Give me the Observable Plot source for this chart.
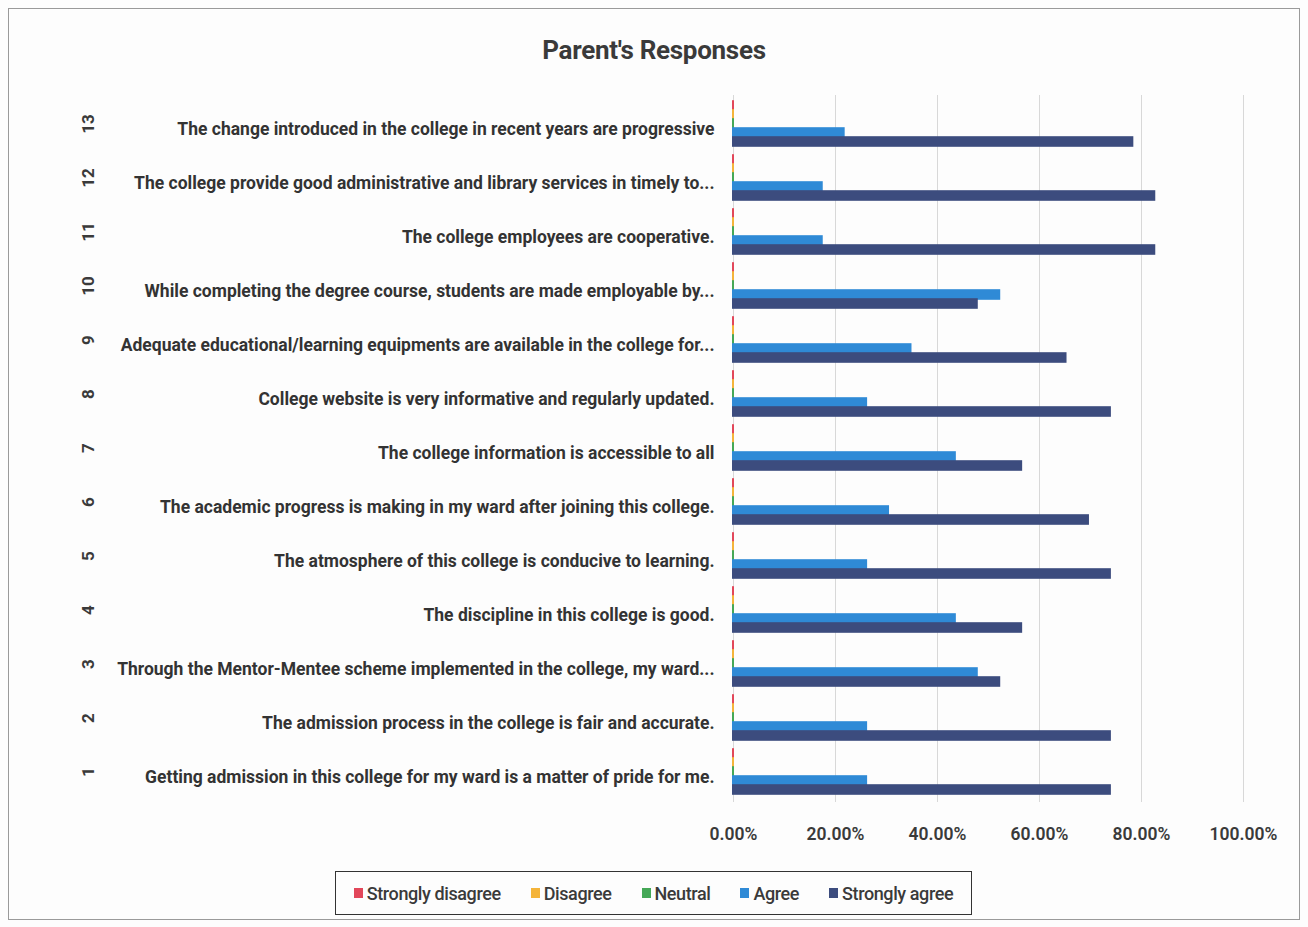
<!DOCTYPE html>
<html>
<head>
<meta charset="utf-8">
<script src="https://cdn.jsdelivr.net/npm/d3@7"></script>
<script src="https://cdn.jsdelivr.net/npm/@observablehq/plot@0.6"></script>
<style>
  html, body { margin: 0; padding: 0; background: #fdfdfd; }
  #frame { position: relative; width: 1308px; height: 927px; overflow: hidden; }
  #border { position: absolute; left: 8px; top: 8px; width: 1292px; height: 912px; border: 1.5px solid #9a9a9a; box-sizing: border-box; }
  #title { position: absolute; left: 0; width: 1308px; top: 35px; text-align: center; font-family: "Roboto", sans-serif; font-weight: bold; font-size: 26px; letter-spacing: -0.3px; color: #3a3a3a; }
  #chart { position: absolute; left: 0; top: 75px; }
  #legend { position: absolute; left: 335px; top: 871px; width: 637px; height: 44px; border: 1.5px solid #333; box-sizing: border-box; display: flex; align-items: center; justify-content: center; gap: 30px; font-family: "Roboto", sans-serif; font-weight: 500; font-size: 18px; letter-spacing: -0.4px; color: #3a3a3a; }
  .item { display: flex; align-items: center; gap: 4px; }
  .sw { width: 9px; height: 10px; display: inline-block; }
</style>
</head>
<body>
<div id="frame">
  <div id="border"></div>
  <div id="title">Parent's Responses</div>
  <div id="chart"></div>
  <div id="legend"></div>
</div>
<script>
const numbers = [13, 12, 11, 10, 9, 8, 7, 6, 5, 4, 3, 2, 1];
const statements = [
  "The change introduced in the college in recent years are progressive",
  "The college provide good administrative and library services in timely to...",
  "The college employees are cooperative.",
  "While completing the degree course, students are made employable by...",
  "Adequate educational/learning equipments are available in the college for...",
  "College website is very informative and regularly updated.",
  "The college information is accessible to all",
  "The academic progress is making in my ward after joining this college.",
  "The atmosphere of this college is conducive to learning.",
  "The discipline in this college is good.",
  "Through the Mentor-Mentee scheme implemented in the college, my ward...",
  "The admission process in the college is fair and accurate.",
  "Getting admission in this college for my ward is a matter of pride for me."
];
const series = ["Strongly disagree", "Disagree", "Neutral", "Agree", "Strongly agree"];
const colors = ["#e2475a", "#f4b43a", "#45a857", "#2f8ad6", "#3c4c7e"];
// values in percent, ordered as statements (13 down to 1)
const stronglyDisagree = [0, 0, 0, 0, 0, 0, 0, 0, 0, 0, 0, 0, 0];
const disagree         = [0, 0, 0, 0, 0, 0, 0, 0, 0, 0, 0, 0, 0];
const neutral          = [0, 0, 0, 0, 0, 0, 0, 0, 0, 0, 0, 0, 0];
const agree            = [21.7, 17.4, 17.4, 52.2, 34.8, 26.1, 43.5, 30.4, 26.1, 43.5, 47.8, 26.1, 26.1];
const stronglyAgree    = [78.3, 82.6, 82.6, 47.8, 65.2, 73.9, 56.5, 69.6, 73.9, 56.5, 52.2, 73.9, 73.9];
const xTicks = [0, 20, 40, 60, 80, 100];

const seriesValues = [stronglyDisagree, disagree, neutral, agree, stronglyAgree];
const data = [];
statements.forEach((s, i) => {
  series.forEach((name, j) => data.push({label: s, num: numbers[i], series: name, value: seriesValues[j][i]}));
});
const cats = statements.map((s, i) => ({label: s, num: String(numbers[i])}));

const font = '"Roboto", sans-serif';
const chart = Plot.plot({
  width: 1290,
  height: 776,
  marginLeft: 733,
  marginRight: 47,
  marginTop: 20,
  marginBottom: 52,
  style: {fontFamily: font, fontSize: "17.5px", color: "#3a3a3a", background: "transparent", fontWeight: "bold"},
  x: {domain: [0, 100], label: null},
  y: {domain: series, axis: null, padding: 0},
  fy: {domain: statements, padding: 0.17, label: null, axis: null},
  color: {domain: series, range: colors},
  marks: [
    Plot.gridX(xTicks, {stroke: "#d8d8d8", strokeOpacity: 1, insetTop: -6, insetBottom: -8}),
    Plot.barX(data, {x: "value", y: "series", fy: "label", fill: "series", insetLeft: -1, insetRight: -1, insetTop: -0.8, insetBottom: -0.8}),
    Plot.axisX({ticks: xTicks, tickFormat: d => d.toFixed(2) + "%", tickSize: 0, tickPadding: 33, label: null, fill: "#3a3a3a", fontWeight: 600}),
    Plot.axisFy({anchor: "left", tickSize: 0, tickPadding: 19, label: null, dy: 5, fill: "#333"}),
    Plot.text(cats, {fy: "label", text: "num", frameAnchor: "left", textAnchor: "middle", dx: -645, dy: 0, rotate: -90, fontSize: 17, fill: "#3a3a3a"})
  ]
});
document.getElementById("chart").appendChild(chart);

const legend = document.getElementById("legend");
series.forEach((s, i) => {
  const item = document.createElement("div");
  item.className = "item";
  item.innerHTML = `<span class="sw" style="background:${colors[i]}"></span><span>${s}</span>`;
  legend.appendChild(item);
});
</script>
</body>
</html>
